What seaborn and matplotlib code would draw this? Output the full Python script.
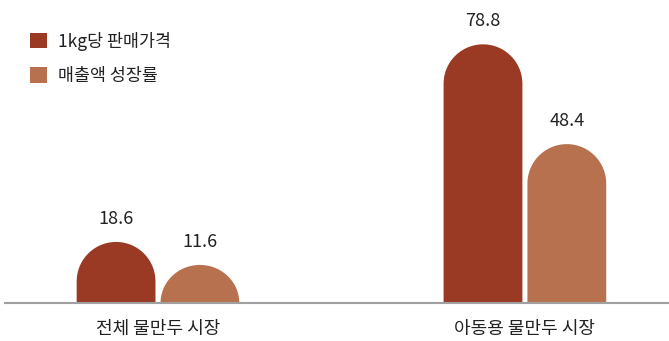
import numpy as np
import pandas as pd
import matplotlib
matplotlib.use("Agg")
import matplotlib.pyplot as plt
from matplotlib.patches import Polygon, Patch
import seaborn as sns

markets = ["전체 물만두 시장", "아동용 물만두 시장"]
series = ["1kg당 판매가격", "매출액 성장률"]
price_per_kg = [18.6, 78.8]
sales_growth = [11.6, 48.4]
colors = ["#9B3A24", "#B8714E"]

df = pd.DataFrame({
    "market": markets * 2,
    "series": [series[0]] * 2 + [series[1]] * 2,
    "value": price_per_kg + sales_growth,
})

sns.set_theme(style="white")
plt.rcParams["font.family"] = ["Noto Sans CJK KR", "DejaVu Sans"]

fig = plt.figure(figsize=(6.69, 3.41), dpi=100)
ax = fig.add_axes([5 / 669, 38 / 341, 663 / 669, 302 / 341])

sns.barplot(data=df, x="market", y="value", hue="series", order=markets,
            hue_order=series, palette=colors, width=0.457, gap=0.06,
            legend=False, ax=ax, saturation=1)

ax.set_ylim(0, 92)
ax.set_xlim(-0.417, 1.39)

for container in ax.containers:
    ax.bar_label(container, fmt="%.1f", padding=10, fontsize=13,
                 color="#222222")

# Replace the square bars with dome-topped shapes
fig.canvas.draw()
px_x = ax.transData.transform((1, 0))[0] - ax.transData.transform((0, 0))[0]
px_y = ax.transData.transform((0, 1))[1] - ax.transData.transform((0, 0))[1]
for bar in list(ax.patches):
    x0, w, h = bar.get_x(), bar.get_width(), bar.get_height()
    color = bar.get_facecolor()
    bar.set_visible(False)
    rx = w / 2
    ry = min(rx * px_x / px_y, h)
    xc = x0 + rx
    t = np.linspace(0, np.pi, 80)
    cap = np.column_stack([xc + rx * np.cos(t), (h - ry) + ry * np.sin(t)])
    pts = np.vstack([[x0 + w, 0], cap, [x0, 0]])
    ax.add_patch(Polygon(pts, closed=True, facecolor=color, edgecolor="none",
                         zorder=2))

sns.despine(ax=ax, left=True, top=True, right=True)
ax.spines["bottom"].set_color("#A0A0A0")
ax.spines["bottom"].set_linewidth(1.5)
ax.set_yticks([])
ax.set_xlabel("")
ax.set_ylabel("")
ax.tick_params(axis="x", length=0, pad=12, labelsize=13, labelcolor="#222222")

handles = [Patch(facecolor=c, edgecolor="none") for c in colors]
ax.legend(handles, series, loc="upper left", bbox_to_anchor=(0.027, 0.922),
          frameon=False, fontsize=12.5, handlelength=1.0, handleheight=1.0,
          handletextpad=0.6, labelspacing=0.95, borderaxespad=0,
          labelcolor="#222222")

fig.savefig("out.png", dpi=100)
